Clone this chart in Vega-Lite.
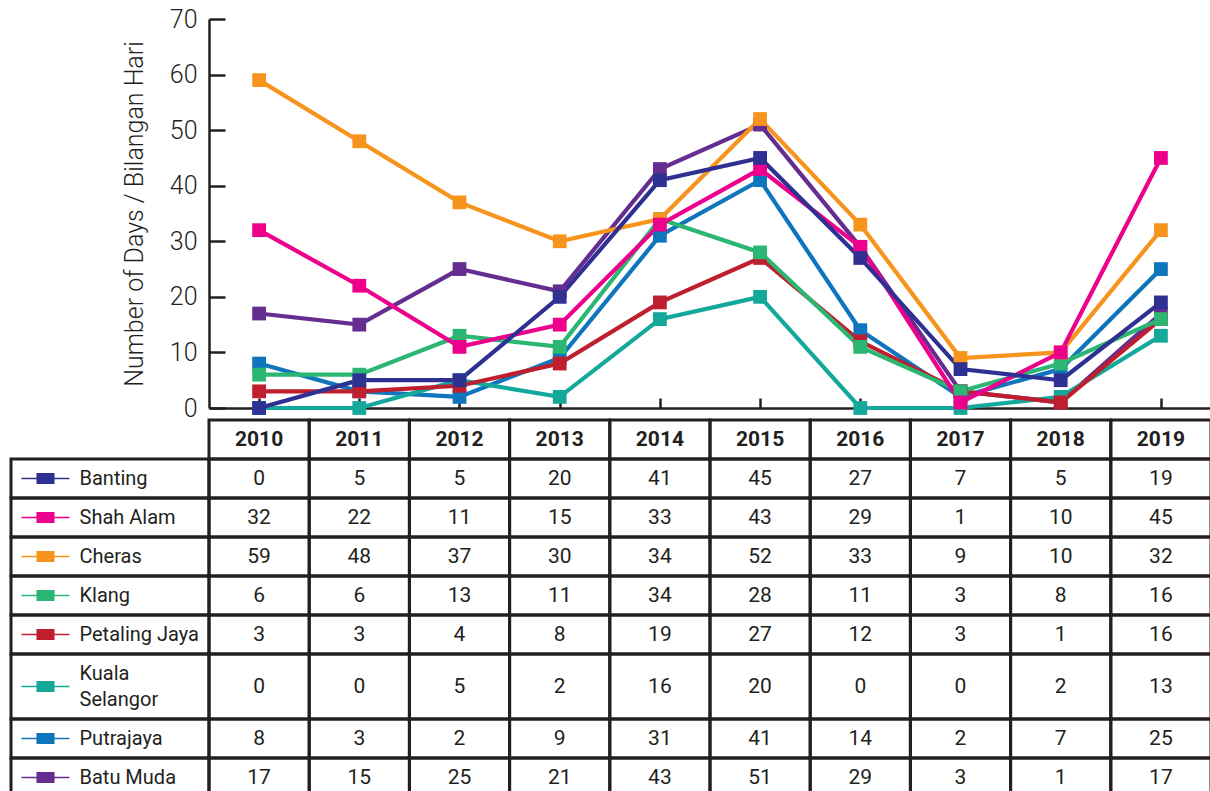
{
  "$schema": "https://vega.github.io/schema/vega-lite/v6.json",
  "padding": {"left": 9, "top": 7, "right": 0, "bottom": 0},
  "background": "white",
  "datasets": {
    "d": [
      {"loc": "Batu Muda", "year": 2010, "v": 17}, {"loc": "Batu Muda", "year": 2011, "v": 15}, {"loc": "Batu Muda", "year": 2012, "v": 25}, {"loc": "Batu Muda", "year": 2013, "v": 21}, {"loc": "Batu Muda", "year": 2014, "v": 43}, {"loc": "Batu Muda", "year": 2015, "v": 51}, {"loc": "Batu Muda", "year": 2016, "v": 29}, {"loc": "Batu Muda", "year": 2017, "v": 3}, {"loc": "Batu Muda", "year": 2018, "v": 1}, {"loc": "Batu Muda", "year": 2019, "v": 17},
      {"loc": "Putrajaya", "year": 2010, "v": 8}, {"loc": "Putrajaya", "year": 2011, "v": 3}, {"loc": "Putrajaya", "year": 2012, "v": 2}, {"loc": "Putrajaya", "year": 2013, "v": 9}, {"loc": "Putrajaya", "year": 2014, "v": 31}, {"loc": "Putrajaya", "year": 2015, "v": 41}, {"loc": "Putrajaya", "year": 2016, "v": 14}, {"loc": "Putrajaya", "year": 2017, "v": 2}, {"loc": "Putrajaya", "year": 2018, "v": 7}, {"loc": "Putrajaya", "year": 2019, "v": 25},
      {"loc": "Kuala Selangor", "year": 2010, "v": 0}, {"loc": "Kuala Selangor", "year": 2011, "v": 0}, {"loc": "Kuala Selangor", "year": 2012, "v": 5}, {"loc": "Kuala Selangor", "year": 2013, "v": 2}, {"loc": "Kuala Selangor", "year": 2014, "v": 16}, {"loc": "Kuala Selangor", "year": 2015, "v": 20}, {"loc": "Kuala Selangor", "year": 2016, "v": 0}, {"loc": "Kuala Selangor", "year": 2017, "v": 0}, {"loc": "Kuala Selangor", "year": 2018, "v": 2}, {"loc": "Kuala Selangor", "year": 2019, "v": 13},
      {"loc": "Petaling Jaya", "year": 2010, "v": 3}, {"loc": "Petaling Jaya", "year": 2011, "v": 3}, {"loc": "Petaling Jaya", "year": 2012, "v": 4}, {"loc": "Petaling Jaya", "year": 2013, "v": 8}, {"loc": "Petaling Jaya", "year": 2014, "v": 19}, {"loc": "Petaling Jaya", "year": 2015, "v": 27}, {"loc": "Petaling Jaya", "year": 2016, "v": 12}, {"loc": "Petaling Jaya", "year": 2017, "v": 3}, {"loc": "Petaling Jaya", "year": 2018, "v": 1}, {"loc": "Petaling Jaya", "year": 2019, "v": 16},
      {"loc": "Klang", "year": 2010, "v": 6}, {"loc": "Klang", "year": 2011, "v": 6}, {"loc": "Klang", "year": 2012, "v": 13}, {"loc": "Klang", "year": 2013, "v": 11}, {"loc": "Klang", "year": 2014, "v": 34}, {"loc": "Klang", "year": 2015, "v": 28}, {"loc": "Klang", "year": 2016, "v": 11}, {"loc": "Klang", "year": 2017, "v": 3}, {"loc": "Klang", "year": 2018, "v": 8}, {"loc": "Klang", "year": 2019, "v": 16},
      {"loc": "Cheras", "year": 2010, "v": 59}, {"loc": "Cheras", "year": 2011, "v": 48}, {"loc": "Cheras", "year": 2012, "v": 37}, {"loc": "Cheras", "year": 2013, "v": 30}, {"loc": "Cheras", "year": 2014, "v": 34}, {"loc": "Cheras", "year": 2015, "v": 52}, {"loc": "Cheras", "year": 2016, "v": 33}, {"loc": "Cheras", "year": 2017, "v": 9}, {"loc": "Cheras", "year": 2018, "v": 10}, {"loc": "Cheras", "year": 2019, "v": 32},
      {"loc": "Shah Alam", "year": 2010, "v": 32}, {"loc": "Shah Alam", "year": 2011, "v": 22}, {"loc": "Shah Alam", "year": 2012, "v": 11}, {"loc": "Shah Alam", "year": 2013, "v": 15}, {"loc": "Shah Alam", "year": 2014, "v": 33}, {"loc": "Shah Alam", "year": 2015, "v": 43}, {"loc": "Shah Alam", "year": 2016, "v": 29}, {"loc": "Shah Alam", "year": 2017, "v": 1}, {"loc": "Shah Alam", "year": 2018, "v": 10}, {"loc": "Shah Alam", "year": 2019, "v": 45},
      {"loc": "Banting", "year": 2010, "v": 0}, {"loc": "Banting", "year": 2011, "v": 5}, {"loc": "Banting", "year": 2012, "v": 5}, {"loc": "Banting", "year": 2013, "v": 20}, {"loc": "Banting", "year": 2014, "v": 41}, {"loc": "Banting", "year": 2015, "v": 45}, {"loc": "Banting", "year": 2016, "v": 27}, {"loc": "Banting", "year": 2017, "v": 7}, {"loc": "Banting", "year": 2018, "v": 5}, {"loc": "Banting", "year": 2019, "v": 19}
    ],
    "L": [
      {"loc": "Banting", "label": "Banting"},
      {"loc": "Shah Alam", "label": "Shah Alam"},
      {"loc": "Cheras", "label": "Cheras"},
      {"loc": "Klang", "label": "Klang"},
      {"loc": "Petaling Jaya", "label": "Petaling Jaya"},
      {"loc": "Kuala Selangor", "label": "Kuala\nSelangor"},
      {"loc": "Putrajaya", "label": "Putrajaya"},
      {"loc": "Batu Muda", "label": "Batu Muda"}
    ]
  },
  "columns": 2,
  "spacing": 0,
  "align": "each",
  "bounds": "flush",
  "resolve": {"scale": {"x": "independent", "y": "independent", "color": "independent", "stroke": "independent"}},
  "concat": [
    {"width": 198, "height": 389, "data": {"values": []}, "mark": "point"},
    {
      "width": 1002, "height": 389,
      "data": {"name": "d"},
      "encoding": {
        "x": {"field": "year", "type": "ordinal", "scale": {"paddingInner": 0, "paddingOuter": 0},
              "axis": {"labels": false, "title": null, "bandPosition": 0, "tickSize": -10, "domainWidth": 2.5, "tickWidth": 2.5, "domainColor": "#231f20", "tickColor": "#231f20", "grid": false}},
        "y": {"field": "v", "type": "quantitative", "scale": {"domain": [0, 70], "nice": false},
              "axis": {"values": [0, 10, 20, 30, 40, 50, 60, 70], "title": "Number of Days / Bilangan Hari", "tickSize": -16, "domainWidth": 2.5, "tickWidth": 2.5, "domainColor": "#231f20", "tickColor": "#231f20", "labelFontSize": 25, "labelFontWeight": 300, "labelColor": "#231f20", "labelPadding": 28, "titleFontSize": 25, "titleFontWeight": 300, "titleColor": "#231f20", "titlePadding": 22, "grid": false}},
        "color": {"field": "loc", "type": "nominal", "legend": null,
                  "scale": {"domain": ["Banting", "Shah Alam", "Cheras", "Klang", "Petaling Jaya", "Kuala Selangor", "Putrajaya", "Batu Muda"],
                            "range": ["#2e3192", "#ec008c", "#f7941d", "#2bb673", "#be1e2d", "#14a89b", "#0f75bc", "#662d91"]}}
      },
      "layer": [
        {"mark": {"type": "line", "strokeWidth": 4.2}},
        {"mark": {"type": "point", "shape": "square", "size": 190, "filled": true, "opacity": 1}}
      ]
    },
    {"width": 198, "height": 12, "data": {"values": []}, "mark": "point"},
    {"width": 1002, "height": 12, "data": {"values": []}, "mark": "point"},
    {"width": 198, "height": 39, "data": {"values": []}, "mark": "point"},
    {
      "width": 1002, "height": 39,
      "data": {"name": "d"},
      "transform": [{"filter": {"field": "loc", "equal": "Banting"}}],
      "encoding": {"x": {"field": "year", "type": "ordinal", "axis": null, "scale": {"paddingInner": 0, "paddingOuter": 0}}},
      "layer": [
        {"mark": {"type": "rect", "fill": "transparent", "stroke": "#231f20", "strokeWidth": 3}},
        {"mark": {"type": "text", "fontSize": 21, "fontWeight": "bold", "color": "#231f20"}, "encoding": {"text": {"field": "year", "type": "nominal"}}}
      ]
    },
    {
      "width": 198, "height": 39, "data": {"name": "L"},
      "transform": [{"filter": {"field": "loc", "equal": "Banting"}}],
      "layer": [
        {"mark": {"type": "rect", "fill": "transparent", "stroke": "#231f20", "strokeWidth": 3}},
        {"mark": {"type": "point", "shape": "M-1,0H1M-0.345,-0.2H0.345V0.2H-0.345Z", "size": 2304, "filled": true, "opacity": 1, "strokeWidth": 1.5, "xOffset": -64.5, "fill": "#2e3192", "stroke": "#2e3192"}},
        {"mark": {"type": "text", "align": "left", "dx": -30.5, "fontSize": 20, "lineBreak": "\n", "lineHeight": 26, "color": "#231f20"}, "encoding": {"text": {"field": "label"}}}
      ]
    },
    {
      "width": 1002, "height": 39, "data": {"name": "d"},
      "transform": [{"filter": {"field": "loc", "equal": "Banting"}}],
      "encoding": {"x": {"field": "year", "type": "ordinal", "axis": null, "scale": {"paddingInner": 0, "paddingOuter": 0}}},
      "layer": [
        {"mark": {"type": "rect", "fill": "transparent", "stroke": "#231f20", "strokeWidth": 3}},
        {"mark": {"type": "text", "fontSize": 21, "color": "#231f20"}, "encoding": {"text": {"field": "v", "type": "quantitative"}}}
      ]
    },
    {
      "width": 198, "height": 39, "data": {"name": "L"},
      "transform": [{"filter": {"field": "loc", "equal": "Shah Alam"}}],
      "layer": [
        {"mark": {"type": "rect", "fill": "transparent", "stroke": "#231f20", "strokeWidth": 3}},
        {"mark": {"type": "point", "shape": "M-1,0H1M-0.345,-0.2H0.345V0.2H-0.345Z", "size": 2304, "filled": true, "opacity": 1, "strokeWidth": 1.5, "xOffset": -64.5, "fill": "#ec008c", "stroke": "#ec008c"}},
        {"mark": {"type": "text", "align": "left", "dx": -30.5, "fontSize": 20, "lineBreak": "\n", "lineHeight": 26, "color": "#231f20"}, "encoding": {"text": {"field": "label"}}}
      ]
    },
    {
      "width": 1002, "height": 39, "data": {"name": "d"},
      "transform": [{"filter": {"field": "loc", "equal": "Shah Alam"}}],
      "encoding": {"x": {"field": "year", "type": "ordinal", "axis": null, "scale": {"paddingInner": 0, "paddingOuter": 0}}},
      "layer": [
        {"mark": {"type": "rect", "fill": "transparent", "stroke": "#231f20", "strokeWidth": 3}},
        {"mark": {"type": "text", "fontSize": 21, "color": "#231f20"}, "encoding": {"text": {"field": "v", "type": "quantitative"}}}
      ]
    },
    {
      "width": 198, "height": 39, "data": {"name": "L"},
      "transform": [{"filter": {"field": "loc", "equal": "Cheras"}}],
      "layer": [
        {"mark": {"type": "rect", "fill": "transparent", "stroke": "#231f20", "strokeWidth": 3}},
        {"mark": {"type": "point", "shape": "M-1,0H1M-0.345,-0.2H0.345V0.2H-0.345Z", "size": 2304, "filled": true, "opacity": 1, "strokeWidth": 1.5, "xOffset": -64.5, "fill": "#f7941d", "stroke": "#f7941d"}},
        {"mark": {"type": "text", "align": "left", "dx": -30.5, "fontSize": 20, "lineBreak": "\n", "lineHeight": 26, "color": "#231f20"}, "encoding": {"text": {"field": "label"}}}
      ]
    },
    {
      "width": 1002, "height": 39, "data": {"name": "d"},
      "transform": [{"filter": {"field": "loc", "equal": "Cheras"}}],
      "encoding": {"x": {"field": "year", "type": "ordinal", "axis": null, "scale": {"paddingInner": 0, "paddingOuter": 0}}},
      "layer": [
        {"mark": {"type": "rect", "fill": "transparent", "stroke": "#231f20", "strokeWidth": 3}},
        {"mark": {"type": "text", "fontSize": 21, "color": "#231f20"}, "encoding": {"text": {"field": "v", "type": "quantitative"}}}
      ]
    },
    {
      "width": 198, "height": 39, "data": {"name": "L"},
      "transform": [{"filter": {"field": "loc", "equal": "Klang"}}],
      "layer": [
        {"mark": {"type": "rect", "fill": "transparent", "stroke": "#231f20", "strokeWidth": 3}},
        {"mark": {"type": "point", "shape": "M-1,0H1M-0.345,-0.2H0.345V0.2H-0.345Z", "size": 2304, "filled": true, "opacity": 1, "strokeWidth": 1.5, "xOffset": -64.5, "fill": "#2bb673", "stroke": "#2bb673"}},
        {"mark": {"type": "text", "align": "left", "dx": -30.5, "fontSize": 20, "lineBreak": "\n", "lineHeight": 26, "color": "#231f20"}, "encoding": {"text": {"field": "label"}}}
      ]
    },
    {
      "width": 1002, "height": 39, "data": {"name": "d"},
      "transform": [{"filter": {"field": "loc", "equal": "Klang"}}],
      "encoding": {"x": {"field": "year", "type": "ordinal", "axis": null, "scale": {"paddingInner": 0, "paddingOuter": 0}}},
      "layer": [
        {"mark": {"type": "rect", "fill": "transparent", "stroke": "#231f20", "strokeWidth": 3}},
        {"mark": {"type": "text", "fontSize": 21, "color": "#231f20"}, "encoding": {"text": {"field": "v", "type": "quantitative"}}}
      ]
    },
    {
      "width": 198, "height": 39, "data": {"name": "L"},
      "transform": [{"filter": {"field": "loc", "equal": "Petaling Jaya"}}],
      "layer": [
        {"mark": {"type": "rect", "fill": "transparent", "stroke": "#231f20", "strokeWidth": 3}},
        {"mark": {"type": "point", "shape": "M-1,0H1M-0.345,-0.2H0.345V0.2H-0.345Z", "size": 2304, "filled": true, "opacity": 1, "strokeWidth": 1.5, "xOffset": -64.5, "fill": "#be1e2d", "stroke": "#be1e2d"}},
        {"mark": {"type": "text", "align": "left", "dx": -30.5, "fontSize": 20, "lineBreak": "\n", "lineHeight": 26, "color": "#231f20"}, "encoding": {"text": {"field": "label"}}}
      ]
    },
    {
      "width": 1002, "height": 39, "data": {"name": "d"},
      "transform": [{"filter": {"field": "loc", "equal": "Petaling Jaya"}}],
      "encoding": {"x": {"field": "year", "type": "ordinal", "axis": null, "scale": {"paddingInner": 0, "paddingOuter": 0}}},
      "layer": [
        {"mark": {"type": "rect", "fill": "transparent", "stroke": "#231f20", "strokeWidth": 3}},
        {"mark": {"type": "text", "fontSize": 21, "color": "#231f20"}, "encoding": {"text": {"field": "v", "type": "quantitative"}}}
      ]
    },
    {
      "width": 198, "height": 65, "data": {"name": "L"},
      "transform": [{"filter": {"field": "loc", "equal": "Kuala Selangor"}}],
      "layer": [
        {"mark": {"type": "rect", "fill": "transparent", "stroke": "#231f20", "strokeWidth": 3}},
        {"mark": {"type": "point", "shape": "M-1,0H1M-0.345,-0.2H0.345V0.2H-0.345Z", "size": 2304, "filled": true, "opacity": 1, "strokeWidth": 1.5, "xOffset": -64.5, "fill": "#14a89b", "stroke": "#14a89b"}},
        {"mark": {"type": "text", "align": "left", "dx": -30.5, "dy": -13, "fontSize": 20, "lineBreak": "\n", "lineHeight": 26, "color": "#231f20"}, "encoding": {"text": {"field": "label"}}}
      ]
    },
    {
      "width": 1002, "height": 65, "data": {"name": "d"},
      "transform": [{"filter": {"field": "loc", "equal": "Kuala Selangor"}}],
      "encoding": {"x": {"field": "year", "type": "ordinal", "axis": null, "scale": {"paddingInner": 0, "paddingOuter": 0}}},
      "layer": [
        {"mark": {"type": "rect", "fill": "transparent", "stroke": "#231f20", "strokeWidth": 3}},
        {"mark": {"type": "text", "fontSize": 21, "color": "#231f20"}, "encoding": {"text": {"field": "v", "type": "quantitative"}}}
      ]
    },
    {
      "width": 198, "height": 39, "data": {"name": "L"},
      "transform": [{"filter": {"field": "loc", "equal": "Putrajaya"}}],
      "layer": [
        {"mark": {"type": "rect", "fill": "transparent", "stroke": "#231f20", "strokeWidth": 3}},
        {"mark": {"type": "point", "shape": "M-1,0H1M-0.345,-0.2H0.345V0.2H-0.345Z", "size": 2304, "filled": true, "opacity": 1, "strokeWidth": 1.5, "xOffset": -64.5, "fill": "#0f75bc", "stroke": "#0f75bc"}},
        {"mark": {"type": "text", "align": "left", "dx": -30.5, "fontSize": 20, "lineBreak": "\n", "lineHeight": 26, "color": "#231f20"}, "encoding": {"text": {"field": "label"}}}
      ]
    },
    {
      "width": 1002, "height": 39, "data": {"name": "d"},
      "transform": [{"filter": {"field": "loc", "equal": "Putrajaya"}}],
      "encoding": {"x": {"field": "year", "type": "ordinal", "axis": null, "scale": {"paddingInner": 0, "paddingOuter": 0}}},
      "layer": [
        {"mark": {"type": "rect", "fill": "transparent", "stroke": "#231f20", "strokeWidth": 3}},
        {"mark": {"type": "text", "fontSize": 21, "color": "#231f20"}, "encoding": {"text": {"field": "v", "type": "quantitative"}}}
      ]
    },
    {
      "width": 198, "height": 39, "data": {"name": "L"},
      "transform": [{"filter": {"field": "loc", "equal": "Batu Muda"}}],
      "layer": [
        {"mark": {"type": "rect", "fill": "transparent", "stroke": "#231f20", "strokeWidth": 3}},
        {"mark": {"type": "point", "shape": "M-1,0H1M-0.345,-0.2H0.345V0.2H-0.345Z", "size": 2304, "filled": true, "opacity": 1, "strokeWidth": 1.5, "xOffset": -64.5, "fill": "#662d91", "stroke": "#662d91"}},
        {"mark": {"type": "text", "align": "left", "dx": -30.5, "fontSize": 20, "lineBreak": "\n", "lineHeight": 26, "color": "#231f20"}, "encoding": {"text": {"field": "label"}}}
      ]
    },
    {
      "width": 1002, "height": 39, "data": {"name": "d"},
      "transform": [{"filter": {"field": "loc", "equal": "Batu Muda"}}],
      "encoding": {"x": {"field": "year", "type": "ordinal", "axis": null, "scale": {"paddingInner": 0, "paddingOuter": 0}}},
      "layer": [
        {"mark": {"type": "rect", "fill": "transparent", "stroke": "#231f20", "strokeWidth": 3}},
        {"mark": {"type": "text", "fontSize": 21, "color": "#231f20"}, "encoding": {"text": {"field": "v", "type": "quantitative"}}}
      ]
    }
  ],
  "config": {
    "view": {"stroke": null},
    "font": "Roboto",
    "text": {"font": "Roboto"},
    "axis": {"labelFont": "Roboto", "titleFont": "Roboto"}
  }
}
